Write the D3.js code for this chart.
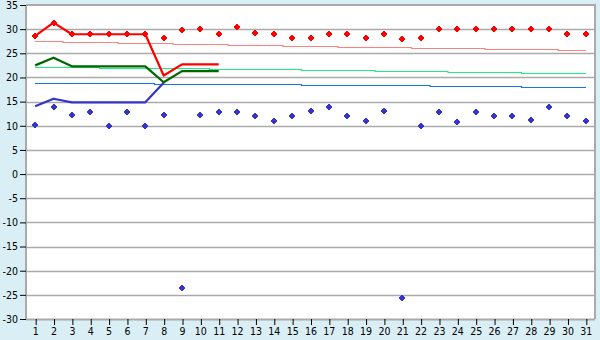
<!DOCTYPE html>
<html><head><meta charset="utf-8">
<script src="https://cdn.jsdelivr.net/npm/d3@7"></script>
<style>
html,body{margin:0;padding:0;background:#daeef5;}
svg{display:block;}
text{font-family:"DejaVu Sans Condensed","DejaVu Sans",sans-serif;font-size:10.5px;fill:#000;}
</style></head><body>
<svg id="c" width="600" height="340"></svg>
<script>
const days = d3.range(1, 32);
const yTicks = [35,30,25,20,15,10,5,0,-5,-10,-15,-20,-25,-30];

// thick lines (days 1..n)
const redLine   = [28.6, 31.35, 28.95, 28.95, 28.95, 28.95, 28.95, 20.4, 22.7, 22.7, 22.7];
const greenLine = [22.5, 24.1, 22.3, 22.3, 22.3, 22.3, 22.3, 19.0, 21.3, 21.3, 21.3];
const blueLine  = [14.05, 15.6, 14.85, 14.85, 14.85, 14.85, 14.85, 18.9];

// thin step lines (one value per day)
const pinkStep  = [27.55,27.55,27.34,27.34,27.34,27.13,27.13,27.13,26.93,26.93,26.93,26.72,26.72,26.72,26.51,26.51,26.51,26.30,26.30,26.30,26.30,26.10,26.10,26.10,26.10,25.89,25.89,25.89,25.89,25.68,25.68];
const lgreenStep= [22.16,22.16,22.16,22.16,21.96,21.96,21.96,21.96,21.96,21.96,21.75,21.75,21.75,21.75,21.75,21.54,21.54,21.54,21.54,21.34,21.34,21.34,21.34,21.13,21.13,21.13,21.13,20.92,20.92,20.92,20.92];
const azureStep = [18.85,18.85,18.85,18.85,18.85,18.85,18.85,18.64,18.64,18.64,18.64,18.64,18.64,18.64,18.64,18.44,18.44,18.44,18.44,18.44,18.44,18.44,18.23,18.23,18.23,18.23,18.23,18.02,18.02,18.02,18.02];

// scatter points
const redPts  = [28.6,31.35,28.95,28.95,28.95,28.95,28.95,28.1,29.8,30.0,28.95,30.4,29.15,28.95,28.1,28.1,28.95,28.95,28.1,28.95,27.9,28.1,30.0,30.0,30.0,30.0,30.0,30.0,30.0,28.95,28.95];
const bluePts = [10.1,13.8,12.2,12.8,9.9,12.8,9.9,12.2,-23.6,12.2,12.8,12.8,12.0,10.9,12.0,13.0,13.8,12.0,10.9,13.0,-25.7,9.9,12.8,10.7,12.8,12.0,12.0,11.1,13.8,12.0,10.9];

const svg = d3.select("#c");
const L = 26, R = 595, T = 5, B = 319;
const x = d3.scalePoint().domain(days).range([L, R]).padding(0.5);
const y = d3.scaleLinear().domain([-30, 35]).range([B, T]);
const ry = v => Math.round(y(v));

svg.append("rect").attr("x", L).attr("y", T).attr("width", R - L).attr("height", B - T).attr("fill", "#fff");

// grid
svg.append("g").selectAll("line").data(yTicks.filter(t => t > -30 && t < 35)).join("line")
  .attr("x1", L).attr("x2", R).attr("y1", d => ry(d) + 0.5).attr("y2", d => ry(d) + 0.5)
  .attr("stroke", "#aaaaaa").attr("stroke-width", 1.5);

// border
svg.append("path").attr("d", `M${L},${T}H${R}V${B}`).attr("fill", "none").attr("stroke", "#aaaaaa").attr("stroke-width", 2);

// step lines
function stepLine(vals, color) {
  const g = d3.line().x((d, i) => Math.round(x(days[i]))).y(d => ry(d) + 0.5).curve(d3.curveStep);
  svg.append("path").attr("d", g(vals)).attr("fill", "none").attr("stroke", color).attr("stroke-width", 1.2);
}
stepLine(pinkStep, "#ff8080");
stepLine(lgreenStep, "#19f07f");
stepLine(azureStep, "#1577e0");

// thick lines
function thick(vals, color) {
  const g = d3.line().x((d, i) => x(days[i])).y(d => y(d));
  svg.append("path").attr("d", g(vals)).attr("fill", "none").attr("stroke", color).attr("stroke-width", 2.2).attr("stroke-linejoin", "round");
}
thick(greenLine, "#006600");
thick(blueLine, "#3535cc");
thick(redLine, "#ff0000");

// markers
const mk = "M-1,-3H1V-2H2V-1H3V1H2V2H1V3H-1V2H-2V1H-3V-1H-2V-2H-1Z";
function pts(vals, color) {
  svg.append("g").selectAll("path").data(vals).join("path")
    .attr("d", mk).attr("fill", color)
    .attr("transform", (d, i) => `translate(${Math.round(x(days[i]))},${ry(d)})`);
}
pts(bluePts, "#3535cc");
pts(redPts, "#ff0000");

// axes
const ax = svg.append("g").attr("transform", `translate(0,${B})`).call(d3.axisBottom(x).tickSize(6).tickPadding(3));
ax.select(".domain").attr("stroke", "#aaaaaa").attr("stroke-width", 2).attr("d", `M${L},0.5H${R}`);
ax.selectAll(".tick line").attr("stroke", "#000").attr("transform", "translate(0.5,0)");
ax.selectAll("text").attr("font-size", 10.5).attr("font-family", "DejaVu Sans Condensed, DejaVu Sans, sans-serif");

const ay = svg.append("g").attr("transform", `translate(${L},0)`).call(d3.axisLeft(y).tickValues(yTicks).tickSize(6).tickPadding(2).tickFormat(d => String(d)));
ay.select(".domain").attr("stroke", "#aaaaaa").attr("stroke-width", 2).attr("d", `M0,${T}V${B}`);
ay.selectAll(".tick line").attr("stroke", "#000");
ay.selectAll("text").attr("font-size", 10.5).attr("font-family", "DejaVu Sans Condensed, DejaVu Sans, sans-serif");
</script>
</body></html>
